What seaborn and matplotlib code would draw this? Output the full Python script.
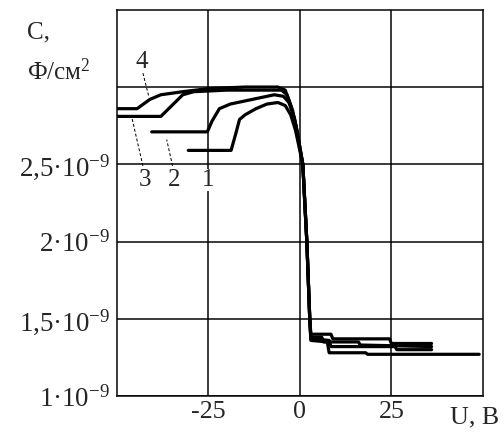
import numpy as np
import pandas as pd
import matplotlib
matplotlib.use("Agg")
import matplotlib.pyplot as plt
import seaborn as sns

# ---- data (C in units of 1e-9 F/cm^2, U in volts) ----
U1 = [-30.5, -18.8, -17.5, -16.5, -15, -12, -9, -6, -4, -2.5, -1.2, 0.8, 1.9, 2.7, 3.0,
      8.5, 9.0, 24.5, 25.0, 36]
C1 = [2.59, 2.59, 2.70, 2.79, 2.82, 2.86, 2.89, 2.90, 2.88, 2.82, 2.72, 2.50, 2.00, 1.50, 1.40,
      1.40, 1.37, 1.37, 1.34, 1.34]

U2 = [-40.5, -25.3, -24, -22, -19, -15, -11, -7, -4.5, -3, -1.5, -0.8, 0.8, 1.9, 2.7, 3.0,
      6.0, 6.5, 16, 16.5, 36]
C2 = [2.71, 2.71, 2.78, 2.86, 2.89, 2.91, 2.93, 2.95, 2.94, 2.90, 2.80, 2.72, 2.50, 2.00, 1.50, 1.38,
      1.38, 1.35, 1.35, 1.33, 1.32]

U3 = [-50, -38, -35, -32, -29, -20, -10, -5, -3.5, -2, -1, 0.8, 1.9, 2.7, 3.0,
      8.0, 8.5, 26, 26.5, 36]
C3 = [2.81, 2.81, 2.88, 2.95, 2.97, 2.98, 2.98, 2.98, 2.95, 2.85, 2.74, 2.50, 2.00, 1.50, 1.37,
      1.36, 1.32, 1.32, 1.30, 1.30]

U4 = [-50, -44.5, -41, -38, -32, -25, -15, -6, -4, -2.5, -1, 0.8, 1.9, 2.7, 3.0,
      7.5, 8.0, 18, 18.5, 49]
C4 = [2.86, 2.86, 2.92, 2.95, 2.97, 2.99, 3.00, 3.00, 2.98, 2.88, 2.74, 2.50, 2.00, 1.50, 1.36,
      1.35, 1.28, 1.28, 1.27, 1.27]

curve_labels = ["1", "2", "3", "4"]
x_ticks = [-25, 0, 25]
x_tick_labels = ["-25", "0", "25"]
y_ticks = [1.0, 1.5, 2.0, 2.5, 3.0]
y_tick_labels = ["1·10$^{-9}$", "1,5·10$^{-9}$", "2·10$^{-9}$", "2,5·10$^{-9}$", ""]

frames = []
for lab, u, c in zip(curve_labels, [U1, U2, U3, U4], [C1, C2, C3, C4]):
    frames.append(pd.DataFrame({"U": u, "C": c, "curve": lab}))
df = pd.concat(frames, ignore_index=True)

sns.set_style("white")
plt.rcParams["font.family"] = ["Liberation Serif", "DejaVu Serif"]
plt.rcParams["mathtext.fontset"] = "custom"
plt.rcParams["mathtext.rm"] = "Liberation Serif"
plt.rcParams["mathtext.it"] = "Liberation Serif:italic"

fig = plt.figure(figsize=(7, 6), dpi=72)
ax = fig.add_axes([0.232, 0.0833, 0.726, 0.894])

sns.lineplot(data=df, x="U", y="C", hue="curve", units="curve", estimator=None, sort=False,
             palette=["black"] * 4, lw=3.2, legend=False, ax=ax)

ax.set_xlim(-50, 50)
ax.set_ylim(1.0, 3.5)
ax.set_xticks(x_ticks)
ax.set_xticklabels(x_tick_labels, fontsize=26)
ax.set_yticks(y_ticks)
ax.set_yticklabels(y_tick_labels, fontsize=27)
ax.tick_params(axis="y", length=0, pad=7)
ax.tick_params(axis="x", length=0, pad=5)
ax.grid(True, color="black", lw=1.5)
for s in ax.spines.values():
    s.set_color("black")
    s.set_linewidth(1.5)
ax.set_xlabel("")
ax.set_ylabel("")

# curve labels with leaders
lab_fs = 25
ax.text(-43.2, 3.16, "4", fontsize=lab_fs, ha="center", va="center")
ax.plot([-42.9, -41.3], [3.09, 2.94], color="black", lw=1, dashes=(3, 2))
ax.text(-42.4, 2.40, "3", fontsize=lab_fs, ha="center", va="center")
ax.plot([-42.9, -45.9], [2.49, 2.80], color="black", lw=1, dashes=(3, 2))
ax.text(-34.5, 2.40, "2", fontsize=lab_fs, ha="center", va="center")
ax.plot([-34.8, -36.4], [2.49, 2.66], color="black", lw=1, dashes=(3, 2))
ax.text(-25.0, 2.40, "1", fontsize=lab_fs, ha="center", va="center",
        bbox=dict(facecolor="white", edgecolor="none", pad=0))

# axis titles
ax.text(47.8, -0.028, "U, В", fontsize=26, ha="center", va="top",
        transform=ax.get_xaxis_transform())
fig.text(0.054, 0.924, "C,", fontsize=25, ha="left", va="center")
fig.text(0.054, 0.833, "Ф/см$^2$", fontsize=25, ha="left", va="center")

fig.savefig("out.png", dpi=72)
